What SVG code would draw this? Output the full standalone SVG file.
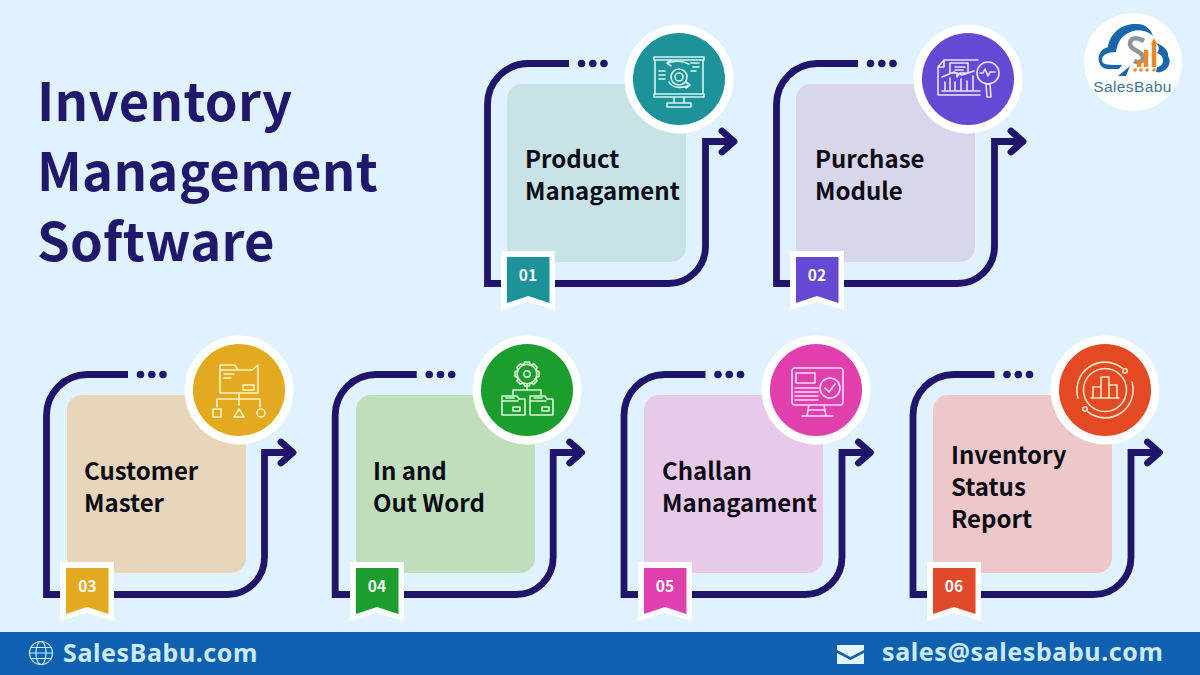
<svg xmlns="http://www.w3.org/2000/svg" width="1200" height="675" viewBox="0 0 1200 675">
<style>
text{font-family:"Noto Sans CJK SC","Noto Sans",sans-serif;font-weight:700}
.title{font-size:52.5px;fill:#21176b;letter-spacing:.3px}
.lab{font-size:24px;fill:#0b0b16}
.num{font-size:15.5px;fill:#f4fbfb;text-anchor:middle}
.foot{font-family:"Noto Sans",sans-serif;font-size:25px;fill:#cdeafb;letter-spacing:.6px}
.conn{fill:none;stroke:#20146b;stroke-width:6.8}
.head{fill:none;stroke:#20146b;stroke-width:6.8;stroke-linecap:round;stroke-linejoin:round}
.dot{fill:#20146b}
.ring{fill:#fff}
.ic{fill:none;stroke-width:1.6;stroke-linecap:round;stroke-linejoin:round}
.bw{fill:#fff}
</style>
<defs>
<g id="route">
<path class="conn" d="M569 63.500H528A41 41 0 0 0 487.500 104.500V283.500H668A37 37 0 0 0 705.500 246.500V141.500H732"/>
<path class="head" d="M722 131L734 141.500L722 152"/>
<circle class="dot" cx="581.500" cy="63.500" r="3.800"/><circle class="dot" cx="592.800" cy="63.500" r="3.800"/><circle class="dot" cx="604" cy="63.500" r="3.800"/>
</g>
<path id="bwhite" class="bw" d="M501 251H555V310L528 302L501 310Z"/>
<path id="bcol" d="M507 257H549.500V303L528 296L507 303Z"/>
<g id="tooth"><path id="t0" d="M-3.300 -9.400L-2.400 -12H2.400L3.300 -9.400"/></g>
<g id="gear"><circle r="9.800"/><circle r="3.200"/><use href="#t0"/><use href="#t0" transform="rotate(45)"/><use href="#t0" transform="rotate(90)"/><use href="#t0" transform="rotate(135)"/><use href="#t0" transform="rotate(180)"/><use href="#t0" transform="rotate(225)"/><use href="#t0" transform="rotate(270)"/><use href="#t0" transform="rotate(315)"/></g>
</defs>
<rect width="1200" height="675" fill="#dff2fe"/>
<g id="title"><text class="title" x="37" y="121">Inventory</text><text class="title" x="37" y="191">Management</text><text class="title" x="37" y="261">Software</text></g>
<g id="connectors">
<use href="#route"/><use href="#route" x="289"/>
<use href="#route" x="-441" y="311"/><use href="#route" x="-152.300" y="311"/><use href="#route" x="136.500" y="311"/><use href="#route" x="425.500" y="311"/>
</g>
<g id="node1">
<rect x="507" y="84" width="179" height="178" rx="15" fill="#c8e3e6"/>
<text class="lab" x="525" y="168">Product</text><text class="lab" x="525" y="200">Managament</text>
<use href="#bwhite"/><use href="#bcol" fill="#1d9299"/><text class="num" x="528" y="281">01</text>
<circle class="ring" cx="679" cy="79" r="54.500"/><circle cx="679" cy="79" r="46" fill="#1d9299"/>
<g class="ic" stroke="#d5f3f2" transform="translate(679 79)">
<path d="M-25 -22H25V-19H-25ZM-24 -19V15M24 -19V15M-25 15H25V18H-25ZM-5 18V24M5 18V24M-12 24H12V28H-12Z"/>
<circle cy="-2" r="8"/><circle cy="-2" r="4"/><path d="M10 -15C3 -19 -5 -18 -12 -16M-12 -16L-8 -19M-12 -16L-8 -13M-10 3C-7 9 3 10 11 6M11 6L7 3M11 6L7 9M-20 -8H-14M-20 -4H-14M-20 0H-14M12 -16H20M14 -12H20M12 -8H17"/>
</g></g>
<g id="node2">
<rect x="796" y="84" width="179" height="178" rx="15" fill="#d8d6ea"/>
<text class="lab" x="815" y="168">Purchase</text><text class="lab" x="815" y="200">Module</text>
<use href="#bwhite" x="289"/><use href="#bcol" x="289" fill="#6549d5"/><text class="num" x="817" y="281">02</text>
<circle class="ring" cx="968" cy="79" r="54.500"/><circle cx="968" cy="79" r="46" fill="#6549d5"/>
<g class="ic" stroke="#e9e3fb" transform="translate(968 79)">
<path d="M-24 -19H10M-30 -12L-24 -19M-30 -12V16H12M-24 -19V-12H-30M-23 12V3M-18 12V-1M-13 12V3M-7 12V0M-1 12V2M5 12V-3M-26 12H12M-26 -2L-14 -7L-6 -4L6 -8M-18 -16H0V-6H-8L-11 -2V-6H-18ZM-13 -12H-3M-13 -9H-5"/>
<circle cx="20" cy="-6" r="11"/><path d="M12 -6L15 -6L17 -10L20 -3L22 -7H27M18 5H22L23 18H19Z"/>
</g></g>
<g id="node3">
<rect x="67" y="395" width="179" height="178" rx="15" fill="#e8d6bb"/>
<text class="lab" x="84" y="480">Customer</text><text class="lab" x="84" y="512">Master</text>
<use href="#bwhite" x="-441" y="311"/><use href="#bcol" x="-441" y="311" fill="#e3aa20"/><text class="num" x="87.500" y="592">03</text>
<circle class="ring" cx="239" cy="390" r="54.500"/><circle cx="239" cy="390" r="46" fill="#e3aa20"/>
<g class="ic" stroke="#fdf2c4" transform="translate(239 390)">
<path d="M-19 -25H-4L-1 -20H13L19 -25V3H-19ZM-19 -20H-1M-15 -16H-5M-15 -12H-8M4 -5H15V0H4ZM0 3V15M-22 17V9H21V17"/>
<path d="M-26 19H-18V27H-26ZM0 19L5 27H-5Z"/><circle cx="22" cy="23" r="4"/>
</g></g>
<g id="node4">
<rect x="356" y="395" width="179" height="178" rx="15" fill="#bfdfbb"/>
<text class="lab" x="373" y="480">In and</text><text class="lab" x="373" y="512">Out Word</text>
<use href="#bwhite" x="-151" y="311"/><use href="#bcol" x="-151" y="311" fill="#1b9e2e"/><text class="num" x="377" y="592">04</text>
<circle class="ring" cx="527" cy="390" r="54.500"/><circle cx="527" cy="390" r="46" fill="#1b9e2e"/>
<g class="ic" stroke="#dcf7d8" transform="translate(527 390)">
<use href="#gear" y="-16"/>
<path d="M0 -6V0M-14 5V0H14V5"/>
<path d="M-25 6H-10L-8 9H-2V25H-25ZM-25 11H-9M-21 8H-13M-14 17H-7V21H-14ZM3 6H18L20 9H26V25H3ZM3 11H19M7 8H15M15 17H22V21H15Z"/>
</g></g>
<g id="node5">
<rect x="644" y="395" width="179" height="178" rx="15" fill="#e8c9ea"/>
<text class="lab" x="662" y="480">Challan</text><text class="lab" x="662" y="512">Managament</text>
<use href="#bwhite" x="137" y="311"/><use href="#bcol" x="137" y="311" fill="#e03fae"/><text class="num" x="665" y="592">05</text>
<circle class="ring" cx="816" cy="390" r="54.500"/><circle cx="816" cy="390" r="46" fill="#e03fae"/>
<g class="ic" stroke="#fbdcf5" transform="translate(816 390)">
<path d="M-24 -19Q-24 -22 -21 -22H24Q27 -22 27 -19V12Q27 15 24 15H-21Q-24 15 -24 12ZM-20 -17H-1V-7H-20ZM-21 -2H2M-21 2H2M-21 6H2M-21 10H2M-7 15L-9 26H10L8 15M-14 26H17M-7 20H8"/>
<circle cx="14" cy="-2" r="10" fill="#e03fae"/><path d="M9 -2L13 2L19 -6"/>
</g></g>
<g id="node6">
<rect x="933" y="395" width="179" height="178" rx="15" fill="#eec8c8"/>
<text class="lab" x="951" y="464">Inventory</text><text class="lab" x="951" y="496">Status</text><text class="lab" x="951" y="528">Report</text>
<use href="#bwhite" x="426" y="311"/><use href="#bcol" x="426" y="311" fill="#e0482a"/><text class="num" x="954" y="592">06</text>
<circle class="ring" cx="1105" cy="390" r="54.500"/><circle cx="1105" cy="390" r="46" fill="#e34a23"/>
<g class="ic" stroke="#fde3c8" transform="translate(1105 390)">
<circle r="21.500"/><path d="M-12 8V-3H-4V8ZM-4 8V-13H4V8ZM4 8V-5H12V8ZM-14 8H14"/><path d="M-27 8A28 28 0 0 1 17 -22M27 -8A28 28 0 0 1 -17 22"/><circle cx="20" cy="-19" r="2.200"/><circle cx="-20" cy="19" r="2.200"/>
</g></g>
<g id="logo">
<circle cx="1133" cy="62" r="49" fill="#fff"/>
<path d="M1119 69H1108C1097 69 1094 51 1108 47C1110 33 1122 23 1137 24C1146 24 1151 30 1153 36C1146 29 1134 28 1125 35C1119 39 1117 46 1116 52C1108 52 1101 55 1102 61C1103 65 1108 65 1122 65Z" fill="#1a66ab"/>
<path d="M1156 43C1165 46 1169 52 1168 56C1173 63 1166 74 1156 72L1157 67C1165 66 1165 55 1157 53C1160 49 1159 46 1156 43Z" fill="#1a66ab"/>
<path d="M1118 76L1130 66L1126 76Z" fill="#1a66ab"/>
<path d="M1144 41C1136 36 1130 38 1130 44C1130 51 1143 50 1143 58C1143 62 1138 63 1134 61" fill="none" stroke="#8f9498" stroke-width="4.500"/>
<path d="M1139 67V60M1146 67V50M1154 67V42" stroke="#e8882c" stroke-width="4.500" fill="none"/>
<path d="M1151 44L1154 38L1157 44Z" fill="#e8882c"/>
<g fill="#e8882c"><circle cx="1135" cy="70" r="1.800"/><circle cx="1141" cy="70" r="1.800"/><circle cx="1147" cy="70" r="1.800"/><circle cx="1154" cy="70" r="1.800"/></g>
<text x="1132.500" y="92" text-anchor="middle" style="font-family:'Liberation Sans',sans-serif;font-weight:400;font-size:15.500px;fill:#3f7690;letter-spacing:.4px">SalesBabu</text>
</g>
<g id="footer">
<rect y="632" width="1200" height="43" fill="#1060b0"/>
<g fill="none" stroke="#cdeafb" stroke-width="1.200" transform="translate(41 653)">
<circle r="11.500"/><ellipse rx="5" ry="11.500"/><path d="M-11.500 0H11.500M-10 -5.500H10M-10 5.500H10"/>
</g>
<text class="foot" x="63" y="662">SalesBabu.com</text>
<path d="M837 645H864V650L850.500 657L837 650Z" fill="#e6f5fd"/><path d="M837 653L850.500 660L864 653V664H837Z" fill="#e6f5fd"/>
<text class="foot" x="882" y="661">sales@salesbabu.com</text>
</g>
</svg>
